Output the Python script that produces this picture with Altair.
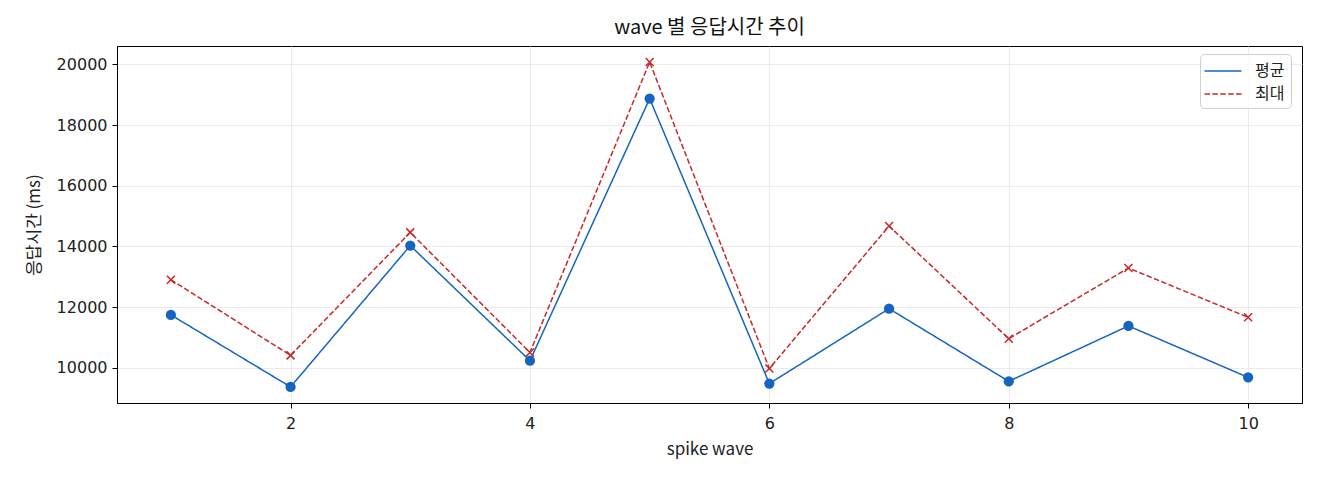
import pandas as pd
import altair as alt

waves = [1, 2, 3, 4, 5, 6, 7, 8, 9, 10]
avg_ms = [11740, 9365, 14025, 10230, 18870, 9475, 11945, 9550, 11375, 9680]
max_ms = [12900, 10405, 14460, 10500, 20076, 9970, 14670, 10955, 13285, 11660]

series_names = ["평균", "최대"]
series_colors = ["#1565C0", "#C62828"]

FONT = "Noto Sans CJK KR"
NUM_FONT = "DejaVu Sans"

df = pd.concat([
    pd.DataFrame({"wave": waves, "ms": avg_ms, "series": series_names[0]}),
    pd.DataFrame({"wave": waves, "ms": max_ms, "series": series_names[1]}),
])

x_enc = alt.X("wave:Q", title="spike wave",
              scale=alt.Scale(domain=[0.55, 10.45], nice=False, zero=False),
              axis=alt.Axis(values=[2, 4, 6, 8, 10], format="d"))
y_enc = alt.Y("ms:Q", title="응답시간 (ms)",
              scale=alt.Scale(domain=[8835, 20605], nice=False, zero=False),
              axis=alt.Axis(values=[10000, 12000, 14000, 16000, 18000, 20000], format="d",
                            titlePadding=13))


def make_legend():
    return alt.Legend(title=None, orient="none", legendX=1083, legendY=8,
                      padding=6, rowPadding=4, symbolOffset=6, labelOffset=21,
                      symbolType="M-1.85,0H1.85", symbolSize=400, symbolStrokeWidth=1.5,
                      labelFont=FONT, labelFontSize=16, labelColor="#222",
                      fillColor="rgba(255,255,255,0.8)", strokeColor="#d0d0d0", cornerRadius=4)


base = alt.Chart(df).encode(x=x_enc, y=y_enc)

lines = base.mark_line(strokeWidth=1.5).encode(
    color=alt.Color("series:N", scale=alt.Scale(domain=series_names, range=series_colors),
                    legend=make_legend()),
    strokeDash=alt.StrokeDash("series:N", scale=alt.Scale(domain=series_names, range=[[1, 0], [5.5, 2.4]]),
                              legend=make_legend()),
)

dots = base.transform_filter(alt.datum.series == series_names[0]).mark_point(
    shape="circle", filled=True, size=105, opacity=1, color=series_colors[0])

crosses = base.transform_filter(alt.datum.series == series_names[1]).mark_point(
    shape="M-1,-1L1,1M-1,1L1,-1", filled=False, size=64, strokeWidth=1.5, opacity=1,
    color=series_colors[1])

chart = alt.layer(lines, dots, crosses).properties(
    width=1185, height=357,
    autosize=alt.AutoSizeParams(type="none"),
    padding={"left": 109, "top": 38, "right": 10, "bottom": 69},
    title=alt.Title("wave 별 응답시간 추이", font=FONT, fontSize=20, fontWeight="normal",
                    color="#111", anchor="middle", offset=8),
).configure_view(
    stroke="black", strokeWidth=1
).configure_axis(
    labelFont=NUM_FONT, labelFontSize=16, labelColor="#222",
    titleFont=FONT, titleFontSize=17, titleFontWeight="normal", titleColor="#222",
    domainColor="black", tickColor="black", tickSize=5, labelPadding=5,
    grid=True, gridColor="#e6e6e6", gridWidth=0.8,
).configure_axisX(titlePadding=10, labelPadding=7)

chart.save("out.html", embed_options={"renderer": "svg", "actions": False})
